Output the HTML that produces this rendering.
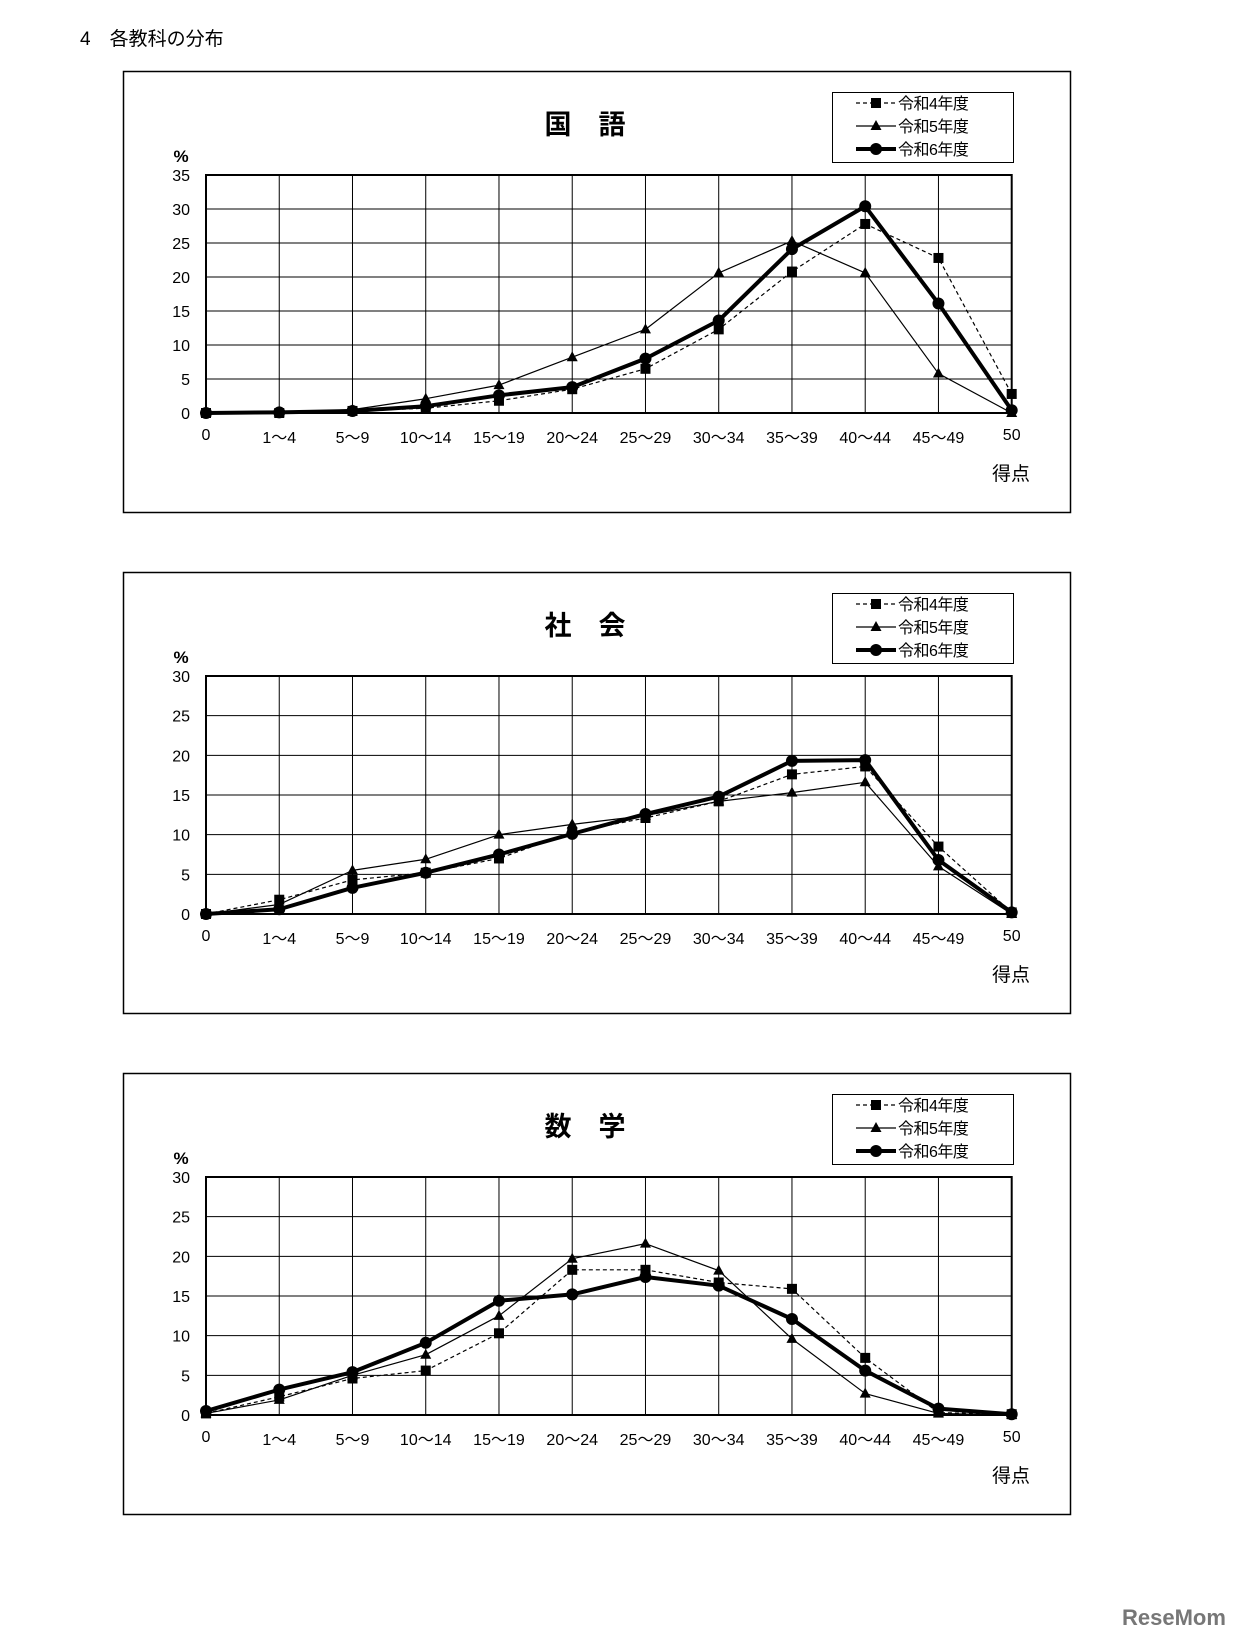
<!DOCTYPE html>
<html><head><meta charset="utf-8">
<style>
html,body{margin:0;padding:0;background:#fff;}
svg{display:block;font-family:"Liberation Sans","Noto Sans CJK JP",sans-serif;}
</style></head>
<body>
<svg id="page" width="1237" height="1639" viewBox="0 0 1237 1639" xmlns="http://www.w3.org/2000/svg">
<text x="80" y="45" font-size="19">4　各教科の分布</text>
<text x="1122" y="1625" font-size="22" font-weight="bold" fill="#777">ReseMom</text>
</svg>
<script>
const categories = ["0","1～4","5～9","10～14","15～19","20～24","25～29","30～34","35～39","40～44","45～49","50"];
const seriesNames = ["令和4年度","令和5年度","令和6年度"];
const chartTitles = ["国　語","社　会","数　学"];
const yMaxes = [35,30,30];
const kokugoR4 = [0,0,0.3,0.7,1.8,3.5,6.5,12.3,20.8,27.8,22.8,2.8];
const kokugoR5 = [0,0.1,0.5,2.1,4.1,8.2,12.3,20.6,25.3,20.6,5.8,0];
const kokugoR6 = [0,0.1,0.3,1.0,2.6,3.8,8.0,13.6,24.1,30.4,16.1,0.4];
const shakaiR4 = [0,1.8,4.3,5.2,7.0,10.3,12.1,14.2,17.6,18.6,8.5,0.2];
const shakaiR5 = [0,1.2,5.5,6.9,10.0,11.3,12.4,14.2,15.3,16.6,6.0,0];
const shakaiR6 = [0,0.6,3.3,5.2,7.5,10.1,12.6,14.8,19.3,19.4,6.8,0.2];
const sugakuR4 = [0.2,2.3,4.6,5.6,10.3,18.3,18.3,16.7,15.9,7.2,0.3,0.1];
const sugakuR5 = [0.2,1.9,5.0,7.6,12.5,19.7,21.6,18.2,9.6,2.7,0.2,0];
const sugakuR6 = [0.5,3.2,5.4,9.1,14.4,15.2,17.4,16.3,12.1,5.6,0.8,0.1];

const NS="http://www.w3.org/2000/svg";
const svg=document.getElementById('page');
function mk(tag,attrs,parent,text){const e=document.createElementNS(NS,tag);for(const k in attrs)e.setAttribute(k,attrs[k]);if(text!==undefined)e.textContent=text;(parent||svg).appendChild(e);return e;}

function marker(g,type,x,y){
  let m;
  if(type===0){m=mk('rect',{x:x-5,y:y-5,width:10,height:10,fill:'#000'},g);}
  else if(type===1){m=mk('polygon',{points:`${x},${y-6} ${x-5.5},${y+4} ${x+5.5},${y+4}`,fill:'#000'},g);}
  else {m=mk('circle',{cx:x,cy:y,r:6,fill:'#000'},g);}
  
  
}

const styles=[{w:1.2,dash:'4,3'},{w:1.2,dash:''},{w:4,dash:''}];
function drawChart(ci,data,top){
  const g=mk('g',{},svg);
  
  
  const fr=mk('rect',{x:123.5,y:top+0.5,width:947,height:441,fill:'none',stroke:'#000','stroke-width':1.5},g);
  
  const L=206,R=1011.7,T=top+104,B=top+342,ymax=yMaxes[ci];
  const xs=i=>L+(R-L)*i/(categories.length-1);
  const ys=v=>B-(B-T)*v/ymax;
  const t=mk('text',{x:585,y:top+63,'font-size':27,'font-weight':'bold','text-anchor':'middle'},g,chartTitles[ci]);
  
  const pc=mk('text',{x:181,y:top+91,'font-size':17,'font-weight':'bold','text-anchor':'middle'},g,'%');
  
  for(let v=0;v<=ymax;v+=5){
    const y=ys(v);
    const gl=mk('line',{x1:L,x2:R,y1:y,y2:y,stroke:'#000','stroke-width':1},g);
    
    const tl=mk('text',{x:190,y:y+6,'font-size':16,'text-anchor':'end'},g,String(v));
    
  }
  categories.forEach((c,i)=>{
    const x=xs(i);
    const vl=mk('line',{x1:x,x2:x,y1:T,y2:B,stroke:'#000','stroke-width':1},g);
    
    const xl=mk('text',{x:x,y:top+(i===0||i===11?369:372),'font-size':16,'text-anchor':'middle'},g,c);
    
  });
  const ax=mk('rect',{x:L,y:T,width:R-L,height:B-T,fill:'none',stroke:'#000','stroke-width':2},g);
  
  const xt=mk('text',{x:1011,y:top+409,'font-size':19,'text-anchor':'middle'},g,'得点');
  
  data.forEach((arr,si)=>{
    const s=styles[si];
    const pts=arr.map((v,i)=>xs(i)+','+ys(v)).join(' ');
    const pl=mk('polyline',{points:pts,fill:'none',stroke:'#000','stroke-width':s.w,'stroke-dasharray':s.dash,'stroke-linejoin':'round'},g);
    
    arr.forEach((v,i)=>marker(g,si,xs(i),ys(v)));
  });
  const lg=mk('g',{},g);
  
  mk('rect',{x:832.5,y:top+21.5,width:181,height:70,fill:'#fff',stroke:'#000','stroke-width':1},lg);
  seriesNames.forEach((n,si)=>{
    const y=top+32+si*23;
    const s=styles[si];
    const e=mk('g',{},lg);
    
    mk('line',{x1:856,x2:896,y1:y,y2:y,stroke:'#000','stroke-width':s.w,'stroke-dasharray':s.dash},e);
    marker(e,si,876,y);
    mk('text',{x:898,y:y+6,'font-size':16,'letter-spacing':'-0.5'},e,n);
  });
}
drawChart(0,[kokugoR4,kokugoR5,kokugoR6],71);
drawChart(1,[shakaiR4,shakaiR5,shakaiR6],572);
drawChart(2,[sugakuR4,sugakuR5,sugakuR6],1073);
</script>
</body></html>
